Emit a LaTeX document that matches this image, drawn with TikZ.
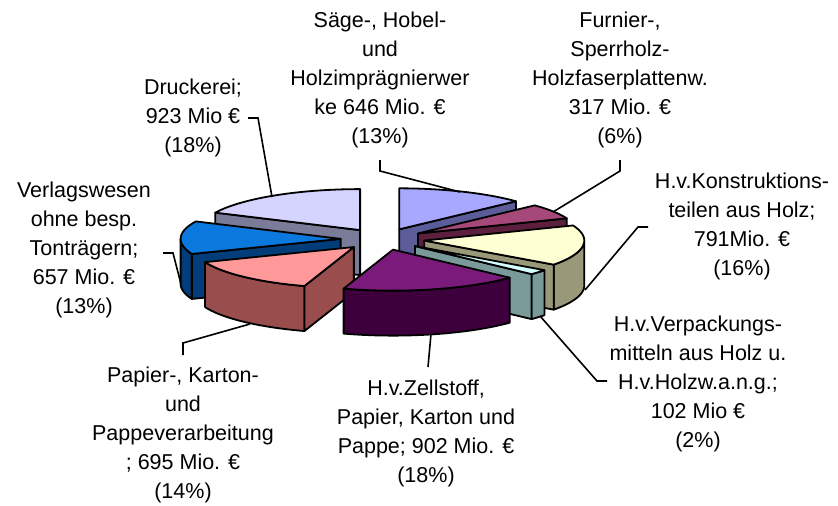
\documentclass[tikz,border=0pt]{standalone}
\usepackage{fontspec}
\setmainfont{Liberation Sans}

\definecolor{druckTop}{HTML}{D4D4FF}
\definecolor{druckSide}{HTML}{7A7A99}
\definecolor{saegeTop}{HTML}{A8A8FF}
\definecolor{saegeSide}{HTML}{5C5C99}
\definecolor{furnierTop}{HTML}{A6497A}
\definecolor{furnierSide}{HTML}{5C1F3D}
\definecolor{konstrTop}{HTML}{FFFFD4}
\definecolor{konstrSide}{HTML}{99997A}
\definecolor{verpackTop}{HTML}{D4FFFF}
\definecolor{verpackSide}{HTML}{7A9999}
\definecolor{zellTop}{HTML}{7A1A7A}
\definecolor{zellSide}{HTML}{3D003D}
\definecolor{papierTop}{HTML}{FF9999}
\definecolor{papierSide}{HTML}{994D4D}
\definecolor{verlagTop}{HTML}{0A78DC}
\definecolor{verlagSide}{HTML}{003D7A}

\tikzset{
  pie/.style={draw=black, line width=1.8pt, line join=round},
  leader/.style={draw=black, line width=1.6pt},
  lbl/.style={align=center, inner sep=0pt, font=\fontsize{21.5}{29}\selectfont},
}

% pie centre (in pixels of the picture)
\def\cx{382.6}
\def\cy{239.2}
% top face of a slice: from angle #1 to #2, clockwise from the back
\newcommand\slicetop[3]{%
  \filldraw[pie, fill=#3] (\cx,\cy) -- plot[domain=#1:#2, samples=40, variable=\t] ({\cx+160*sin(\t)},{\cy-41*cos(\t)}) -- cycle;}
% flat side of a slice along angle #1
\newcommand\slicewall[2]{%
  \filldraw[pie, fill=#2] (\cx,\cy) -- ({\cx+160*sin(#1)},{\cy-41*cos(#1)}) -- ++(0,45) -- (\cx,{\cy+45}) -- cycle;}
% round outer side of a slice from #1 to #2
\newcommand\slicerim[3]{%
  \filldraw[pie, fill=#3] plot[domain=#1:#2, samples=40, variable=\t] ({\cx+160*sin(\t)},{\cy-41*cos(\t)})
    -- plot[domain=#1:#2, samples=40, variable=\t] ({\cx+160*sin(#1+#2-\t)},{\cy+45-41*cos(#1+#2-\t)}) -- cycle;}

\begin{document}
\begin{tikzpicture}[x=1pt, y=-1pt]
  \useasboundingbox (0,0) rectangle (838,506);

  % Druckerei
  \begin{scope}[shift={({42*sin(327.6)},{-10.76*cos(327.6)})}]
    \slicewall{295.2}{druckSide}
    \slicetop{295.2}{360}{druckTop}
  \end{scope}
  % Saege
  \begin{scope}[shift={({42*sin(23.4)},{-10.76*cos(23.4)})}]
    \slicewall{46.8}{saegeSide}
    \slicetop{0}{46.8}{saegeTop}
  \end{scope}
  % Furnier
  \begin{scope}[shift={({42*sin(57.6)},{-10.76*cos(57.6)})}]
    \slicewall{68.4}{furnierSide}
    \slicetop{46.8}{68.4}{furnierTop}
  \end{scope}
  % Verlagswesen
  \begin{scope}[shift={({42*sin(271.8)},{-10.76*cos(271.8)})}]
    \slicerim{248.4}{270}{verlagSide}
    \slicewall{248.4}{verlagSide}
    \slicetop{248.4}{295.2}{verlagTop}
  \end{scope}
  % Konstruktionsteile
  \begin{scope}[shift={({42*sin(97.2)},{-10.76*cos(97.2)})}]
    \slicerim{90}{126}{konstrSide}
    \slicewall{126}{konstrSide}
    \slicetop{68.4}{126}{konstrTop}
  \end{scope}
  % Verpackungsmittel
  \begin{scope}[shift={({42*sin(129.6)},{-10.76*cos(129.6)})}]
    \slicerim{126}{133.2}{verpackSide}
    \slicewall{133.2}{verpackSide}
    \slicetop{126}{133.2}{verpackTop}
  \end{scope}
  % Papierverarbeitung
  \begin{scope}[shift={({42*sin(223.2)},{-10.76*cos(223.2)})}]
    \slicerim{198}{248.4}{papierSide}
    \slicewall{198}{papierSide}
    \slicetop{198}{248.4}{papierTop}
  \end{scope}
  % Zellstoff
  \begin{scope}[shift={({42*sin(165.6)},{-10.76*cos(165.6)})}]
    \slicerim{133.2}{198}{zellSide}
    \slicetop{133.2}{198}{zellTop}
  \end{scope}

  % labels
  \node[lbl] (saege) at (380,80) {Säge-, Hobel-\\und\\Holzimprägnierwer\\ke 646 Mio. €\\(13\%)};
  \node[lbl] (furnier) at (620,80) {Furnier-,\\Sperrholz-\\Holzfaserplattenw.\\317 Mio. €\\(6\%)};
  \node[lbl] (konstr) at (742,226) {H.v.Konstruktions-\\teilen aus Holz;\\791Mio. €\\(16\%)};
  \node[lbl] (verpack) at (698,383.5) {H.v.Verpackungs-\\mitteln aus Holz u.\\H.v.Holzw.a.n.g.;\\102 Mio €\\(2\%)};
  \node[lbl] (zell) at (426,433) {H.v.Zellstoff,\\Papier, Karton und\\Pappe; 902 Mio. €\\(18\%)};
  \node[lbl] (papier) at (183,435) {Papier-, Karton-\\und\\Pappeverarbeitung\\; 695 Mio. €\\(14\%)};
  \node[lbl] (verlag) at (84,250) {Verlagswesen\\ohne besp.\\Tonträgern;\\657 Mio. €\\(13\%)};
  \node[lbl] (druck) at (193,118) {Druckerei;\\923 Mio €\\(18\%)};

  % leader lines
  \coordinate (druck-a) at (248,118);   \coordinate (druck-b) at (272,197);
  \coordinate (saege-a) at (380,160);   \coordinate (saege-b) at (460,192);
  \coordinate (furnier-a) at (620,160); \coordinate (furnier-b) at (553,212);
  \coordinate (konstr-a) at (648,227);  \coordinate (konstr-b) at (585,290);
  \coordinate (verpack-a) at (607,381); \coordinate (verpack-b) at (540,316);
  \coordinate (zell-a) at (428,367);    \coordinate (zell-b) at (431,334);
  \coordinate (papier-a) at (183,355);  \coordinate (papier-b) at (250,324);
  \coordinate (verlag-a) at (163,253);  \coordinate (verlag-b) at (181,284);
  \draw[leader] (druck-a) -- ++(10,0) -- (druck-b);
  \draw[leader] (saege-a) -- ++(0,11) -- (saege-b);
  \draw[leader] (furnier-a) -- ++(0,11) -- (furnier-b);
  \draw[leader] (konstr-a) -- ++(-10,0) -- (konstr-b);
  \draw[leader] (verpack-a) -- ++(-10,0) -- (verpack-b);
  \draw[leader] (zell-a) -- (zell-b);
  \draw[leader] (papier-a) -- ++(0,-12) -- (papier-b);
  \draw[leader] (verlag-a) -- ++(10,0) -- (verlag-b);
\end{tikzpicture}
\end{document}
